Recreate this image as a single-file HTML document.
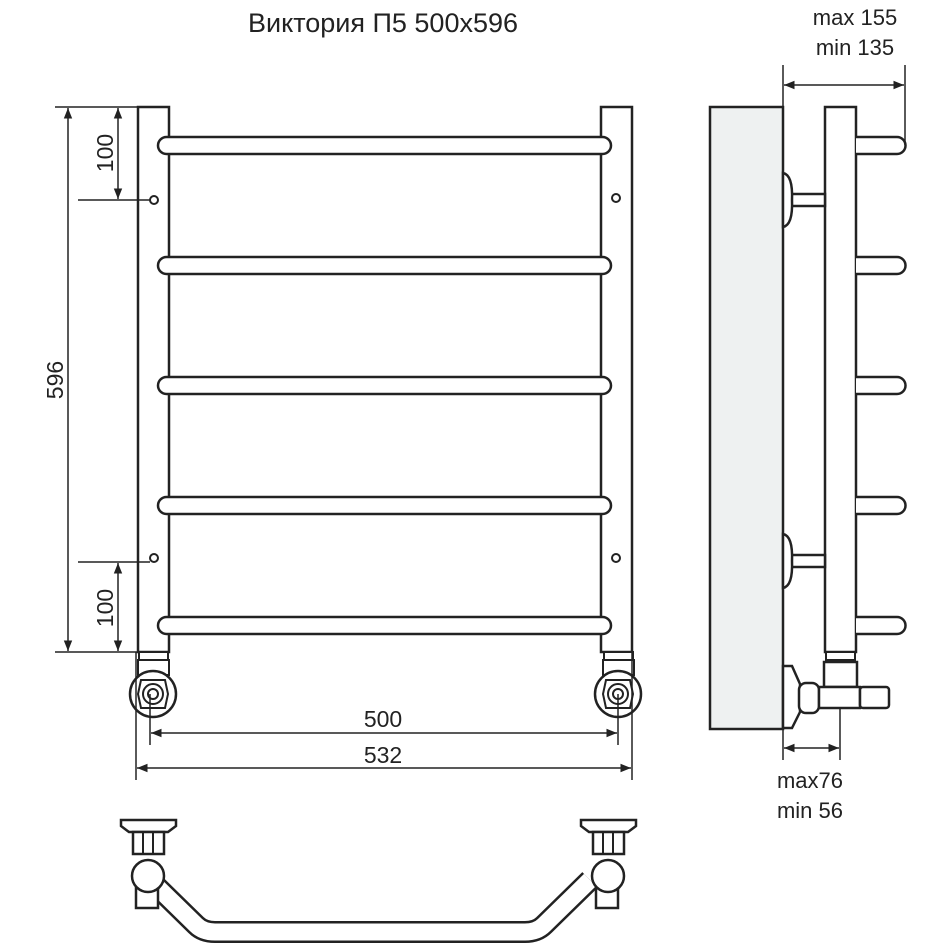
<!DOCTYPE html>
<html><head><meta charset="utf-8"><style>
html,body{margin:0;padding:0;background:#fff;}
svg{display:block;}
text{font-family:"Liberation Sans",Arial,sans-serif;fill:#222;}
</style></head><body>
<svg width="950" height="950" viewBox="0 0 950 950" xmlns="http://www.w3.org/2000/svg">
<defs>
<marker id="a" viewBox="0 0 10 10" refX="10" refY="5" markerWidth="9" markerHeight="7" orient="auto-start-reverse"><path d="M0,1 L10,5 L0,9 z" fill="#222"/></marker>
</defs>
<g stroke="#222" stroke-width="2.5" fill="#fff">
<text x="383" y="32" font-size="27" text-anchor="middle" stroke="none">Виктория П5 500x596</text>

<rect x="138" y="107" width="31" height="545"/>
<rect x="601" y="107" width="31" height="545"/>
<g>
<rect x="158" y="137" width="453" height="17" rx="8.5"/>
<rect x="158" y="257" width="453" height="17" rx="8.5"/>
<rect x="158" y="377" width="453" height="17" rx="8.5"/>
<rect x="158" y="497" width="453" height="17" rx="8.5"/>
<rect x="158" y="617" width="453" height="17" rx="8.5"/>
</g>
<circle cx="154" cy="200" r="4" stroke-width="2"/>
<circle cx="616" cy="198" r="4" stroke-width="2"/>
<circle cx="154" cy="558" r="4" stroke-width="2"/>
<circle cx="616" cy="558" r="4" stroke-width="2"/>

<g id="fl">
<rect x="139" y="652" width="29" height="8" stroke-width="2"/>
<rect x="138" y="660" width="31" height="15" stroke-width="2"/>
<circle cx="153" cy="694" r="23"/>
<polygon points="141,680 165,680 168,694 165,708 141,708 138,694" stroke-width="2"/>
<circle cx="153" cy="694" r="10" stroke-width="2"/>
<circle cx="153" cy="694" r="5" stroke-width="2"/>
</g>
<use href="#fl" transform="translate(465,0)"/>

<g stroke-width="1.5" fill="none">
<line x1="55" y1="107" x2="138" y2="107"/>
<line x1="55" y1="652" x2="138" y2="652"/>
<line x1="68" y1="108" x2="68" y2="651" marker-start="url(#a)" marker-end="url(#a)"/>
<line x1="78" y1="200" x2="150" y2="200"/>
<line x1="78" y1="562" x2="150" y2="562"/>
<line x1="118" y1="108" x2="118" y2="199" marker-start="url(#a)" marker-end="url(#a)"/>
<line x1="118" y1="563" x2="118" y2="651" marker-start="url(#a)" marker-end="url(#a)"/>
<line x1="150" y1="694" x2="150" y2="745"/>
<line x1="618" y1="694" x2="618" y2="745"/>
<line x1="151" y1="733" x2="617" y2="733" marker-start="url(#a)" marker-end="url(#a)"/>
<line x1="136" y1="652" x2="136" y2="780"/>
<line x1="632" y1="652" x2="632" y2="780"/>
<line x1="137" y1="768" x2="631" y2="768" marker-start="url(#a)" marker-end="url(#a)"/>
</g>
<text x="63" y="380" font-size="23" text-anchor="middle" stroke="none" transform="rotate(-90 63 380)">596</text>
<text x="113" y="153" font-size="23" text-anchor="middle" stroke="none" transform="rotate(-90 113 153)">100</text>
<text x="113" y="608" font-size="23" text-anchor="middle" stroke="none" transform="rotate(-90 113 608)">100</text>
<text x="383" y="727" font-size="23" text-anchor="middle" stroke="none">500</text>
<text x="383" y="763" font-size="23" text-anchor="middle" stroke="none">532</text>

<rect x="710" y="107" width="73" height="622" fill="#eef1f1"/>
<rect x="825" y="107" width="31" height="545"/>
<g>
<path d="M856,137 H897 a8.5,8.5 0 0 1 0,17 H856"/>
<path d="M856,257 H897 a8.5,8.5 0 0 1 0,17 H856"/>
<path d="M856,377 H897 a8.5,8.5 0 0 1 0,17 H856"/>
<path d="M856,497 H897 a8.5,8.5 0 0 1 0,17 H856"/>
<path d="M856,617 H897 a8.5,8.5 0 0 1 0,17 H856"/>
</g>
<rect x="791" y="194" width="34" height="12"/>
<path d="M783,173 Q793,175 792,200 Q793,225 783,227 Z"/>
<rect x="791" y="555" width="34" height="12"/>
<path d="M783,534 Q793,536 792,561 Q793,586 783,588 Z"/>
<rect x="826" y="652" width="29" height="8" stroke-width="2"/>
<rect x="824" y="662" width="33" height="25"/>
<polygon points="783,666 792,666 800,684 800,712 792,728 783,728"/>
<rect x="799" y="683" width="20" height="30" rx="7"/>
<rect x="819" y="687" width="41" height="21"/>
<rect x="860" y="687" width="29" height="21" rx="3"/>
<g stroke-width="1.5" fill="none">
<line x1="783" y1="65" x2="783" y2="107"/>
<line x1="905" y1="65" x2="905" y2="145"/>
<line x1="784" y1="85" x2="904" y2="85" marker-start="url(#a)" marker-end="url(#a)"/>
<line x1="783" y1="729" x2="783" y2="760"/>
<line x1="840" y1="708" x2="840" y2="760"/>
<line x1="784" y1="748" x2="839" y2="748" marker-start="url(#a)" marker-end="url(#a)"/>
</g>
<text x="855" y="25" font-size="22" text-anchor="middle" stroke="none">max 155</text>
<text x="855" y="55" font-size="22" text-anchor="middle" stroke="none">min 135</text>
<text x="810" y="788" font-size="22" text-anchor="middle" stroke="none">max76</text>
<text x="810" y="818" font-size="22" text-anchor="middle" stroke="none">min 56</text>

<path d="M150,880 L196,925 Q203,932 215,932 L525,932 Q537,932 544,925 L590,880" fill="none" stroke-width="22"/>
<path d="M150,880 L196,925 Q203,932 215,932 L525,932 Q537,932 544,925 L590,880" fill="none" stroke="#fff" stroke-width="17"/>
<g id="bv">
<rect x="136" y="885" width="22" height="23"/>
<polygon points="121,820 176,820 176,826 168,832 129,832 121,826"/>
<rect x="133" y="832" width="31" height="22"/>
<line x1="143" y1="832" x2="143" y2="854" stroke-width="2"/>
<line x1="153" y1="832" x2="153" y2="854" stroke-width="2"/>
<circle cx="148" cy="876" r="16"/>
</g>
<use href="#bv" transform="translate(460,0)"/>
</g>
</svg>
</body></html>
